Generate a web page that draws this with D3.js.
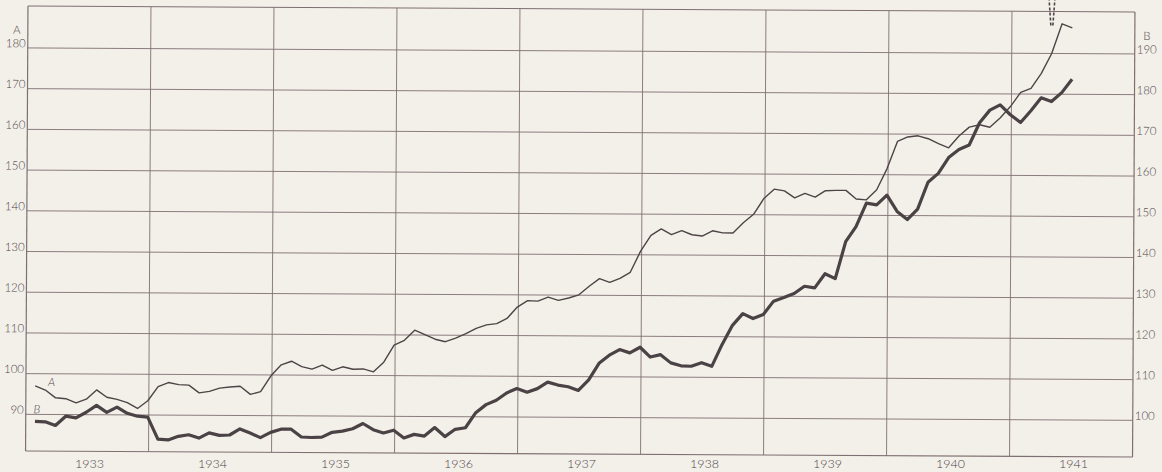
<!DOCTYPE html>
<html>
<head>
<meta charset="utf-8">
<script src="https://cdn.jsdelivr.net/npm/d3@7"></script>
<style>
  html, body { margin: 0; padding: 0; background: #f3f0ea; }
  svg { display: block; }
  .lbl { font-family: Lato, 'Open Sans', 'Liberation Sans', sans-serif; font-weight: 300; fill: #4f4547; }
</style>
</head>
<body>
<div id="chart"></div>
<script>
// Monthly index numbers, Jan 1933 .. Jun 1941
// A is read on the left scale, B on the right scale (B scale = A scale + 10)
const seriesA = [
  97.0, 96.0, 94.1, 93.9, 92.9, 93.8, 96.1, 94.3, 93.8, 93.0, 91.6, 93.5,
  97.0, 98.0, 97.5, 97.4, 95.5, 95.9, 96.7, 97.0, 97.2, 95.2, 95.9, 99.8,
  102.5, 103.4, 102.1, 101.5, 102.5, 101.2, 102.1, 101.5, 101.6, 100.9, 103.3, 107.5,
  108.7, 111.2, 110.1, 109.0, 108.4, 109.3, 110.4, 111.7, 112.6, 112.9, 114.2, 117.0,
  118.6, 118.5, 119.5, 118.7, 119.3, 120.1, 122.2, 124.1, 123.2, 124.2, 125.7, 130.9,
  134.8, 136.4, 135.0, 136.0, 135.0, 134.7, 136.0, 135.5, 135.5, 138.0, 140.1, 144.0,
  146.3, 145.9, 144.2, 145.3, 144.4, 146.0, 146.1, 146.1, 144.0, 143.8, 146.3, 151.5,
  158.2, 159.3, 159.6, 158.9, 157.7, 156.7, 159.6, 161.8, 162.4, 161.8, 164.1, 166.9,
  170.4, 171.4, 175.1, 180.0, 187.3, 186.3
]
const seriesB = [
  98.3, 98.2, 97.3, 99.6, 99.2, 100.6, 102.3, 100.6, 101.9, 100.4, 99.7, 99.5,
  94.1, 93.9, 94.8, 95.2, 94.4, 95.7, 95.1, 95.2, 96.7, 95.7, 94.6, 95.9,
  96.7, 96.7, 94.8, 94.7, 94.8, 96.0, 96.3, 96.9, 98.2, 96.7, 95.9, 96.6,
  94.7, 95.6, 95.2, 97.3, 95.1, 96.9, 97.3, 101.0, 103.0, 104.1, 105.9, 107.0,
  106.1, 107.0, 108.6, 107.9, 107.5, 106.6, 109.2, 113.3, 115.3, 116.7, 115.9, 117.3,
  114.9, 115.5, 113.5, 112.8, 112.7, 113.6, 112.7, 118.1, 122.8, 125.7, 124.5, 125.5,
  128.8, 129.7, 130.7, 132.5, 132.1, 135.6, 134.4, 143.5, 147.2, 153.0, 152.6, 155.0,
  151.0, 149.0, 151.6, 158.2, 160.4, 164.3, 166.3, 167.4, 172.9, 176.0, 177.3, 174.9,
  173.0, 175.9, 179.1, 178.2, 180.4, 183.7
]
const years = [1933, 1934, 1935, 1936, 1937, 1938, 1939, 1940, 1941]
const leftTicks = [90, 100, 110, 120, 130, 140, 150, 160, 170, 180]
const rightTicks = [100, 110, 120, 130, 140, 150, 160, 170, 180, 190]

const W = 1162, H = 472
const margin = { left: 28, right: 27, top: 6, bottom: 21 }

const svg = d3.select('#chart').append('svg')
  .attr('width', W)
  .attr('height', H)

svg.append('rect').attr('width', W).attr('height', H).attr('fill', '#f3f0ea')

// the scanned sheet sits a little askew
const g = svg.append('g').attr('transform', `rotate(0.31, ${margin.left}, 0)`)

const x = d3.scaleLinear()
  .domain([1933, 1942])
  .range([margin.left, W - margin.right])

const yA = d3.scaleLinear()
  .domain([81, 190.3])
  .range([H - margin.bottom, margin.top])

const yB = d3.scaleLinear()
  .domain([91, 200.3])
  .range([H - margin.bottom, margin.top])

const monthX = i => x(1933 + (i + 0.9) / 12)

const gridColor = '#7f6f72'

// horizontal grid
g.append('g')
  .selectAll('line')
  .data(leftTicks)
  .join('line')
  .attr('x1', x(1933)).attr('x2', x(1942))
  .attr('y1', d => yA(d)).attr('y2', d => yA(d))
  .attr('stroke', gridColor)
  .attr('stroke-width', 0.9)

// vertical grid (year boundaries) + frame
g.append('g')
  .selectAll('line')
  .data(d3.range(1933, 1943))
  .join('line')
  .attr('x1', d => x(d)).attr('x2', d => x(d))
  .attr('y1', yA.range()[1]).attr('y2', yA.range()[0])
  .attr('stroke', gridColor)
  .attr('stroke-width', d => (d === 1933 || d === 1942) ? 1.2 : 0.9)

g.append('line')
  .attr('x1', x(1933)).attr('x2', x(1942))
  .attr('y1', yA.range()[1]).attr('y2', yA.range()[1])
  .attr('stroke', gridColor).attr('stroke-width', 1)

g.append('line')
  .attr('x1', x(1933)).attr('x2', x(1942))
  .attr('y1', yA.range()[0]).attr('y2', yA.range()[0])
  .attr('stroke', gridColor).attr('stroke-width', 1.2)

// axis labels
g.append('g')
  .selectAll('text')
  .data(leftTicks)
  .join('text')
  .attr('class', 'lbl')
  .attr('x', x(1933) - 2)
  .attr('y', d => yA(d) - 0.5)
  .attr('text-anchor', 'end')
  .attr('font-size', 11.5)
  .text(d => d)

g.append('g')
  .selectAll('text')
  .data(rightTicks)
  .join('text')
  .attr('class', 'lbl')
  .attr('x', x(1942) + 2)
  .attr('y', d => yB(d) - 0.5)
  .attr('text-anchor', 'start')
  .attr('font-size', 11.5)
  .text(d => d)

g.append('text').attr('class', 'lbl')
  .attr('x', x(1933) - 11).attr('y', yA(180) - 14)
  .attr('text-anchor', 'middle').attr('font-size', 11.5)
  .text('A')

g.append('text').attr('class', 'lbl')
  .attr('x', x(1942) + 12).attr('y', yB(190) - 14)
  .attr('text-anchor', 'middle').attr('font-size', 11.5)
  .text('B')

// year labels (kept level so they stay on the sheet)
svg.append('g')
  .selectAll('text')
  .data(years)
  .join('text')
  .attr('class', 'lbl')
  .attr('x', d => x(d + 0.5))
  .attr('y', H - 4)
  .attr('text-anchor', 'middle')
  .attr('font-size', 12.5)
  .text(d => d)

// lines
const lineA = d3.line()
  .x((d, i) => monthX(i))
  .y(d => yA(d))

const lineB = d3.line()
  .x((d, i) => monthX(i))
  .y(d => yB(d))

g.append('path')
  .datum(seriesA)
  .attr('d', lineA)
  .attr('fill', 'none')
  .attr('stroke', '#4e4446')
  .attr('stroke-width', 1.4)
  .attr('stroke-linejoin', 'round')

g.append('path')
  .datum(seriesB)
  .attr('d', lineB)
  .attr('fill', 'none')
  .attr('stroke', '#4a4244')
  .attr('stroke-width', 3.2)
  .attr('stroke-linejoin', 'round')

// series names at the start of each line
g.append('text').attr('class', 'lbl')
  .attr('x', monthX(1) + 6).attr('y', yA(seriesA[1]) - 4)
  .attr('text-anchor', 'middle').attr('font-size', 11.5)
  .attr('font-style', 'italic')
  .text('A')

g.append('text').attr('class', 'lbl')
  .attr('x', monthX(0) + 2).attr('y', yB(seriesB[0]) - 8)
  .attr('text-anchor', 'middle').attr('font-size', 11.5)
  .attr('font-style', 'italic')
  .text('B')

// A runs off the top of the sheet: dashed continuation mark
const offX = monthX(99)
;[-3, 3].forEach(dx => {
  g.append('line')
    .attr('x1', offX + dx).attr('x2', offX + dx / 3)
    .attr('y1', -8).attr('y2', yA.range()[1] + 14)
    .attr('stroke', '#4e4446')
    .attr('stroke-width', 1.6)
    .attr('stroke-dasharray', '3,2')
})
</script>
</body>
</html>
